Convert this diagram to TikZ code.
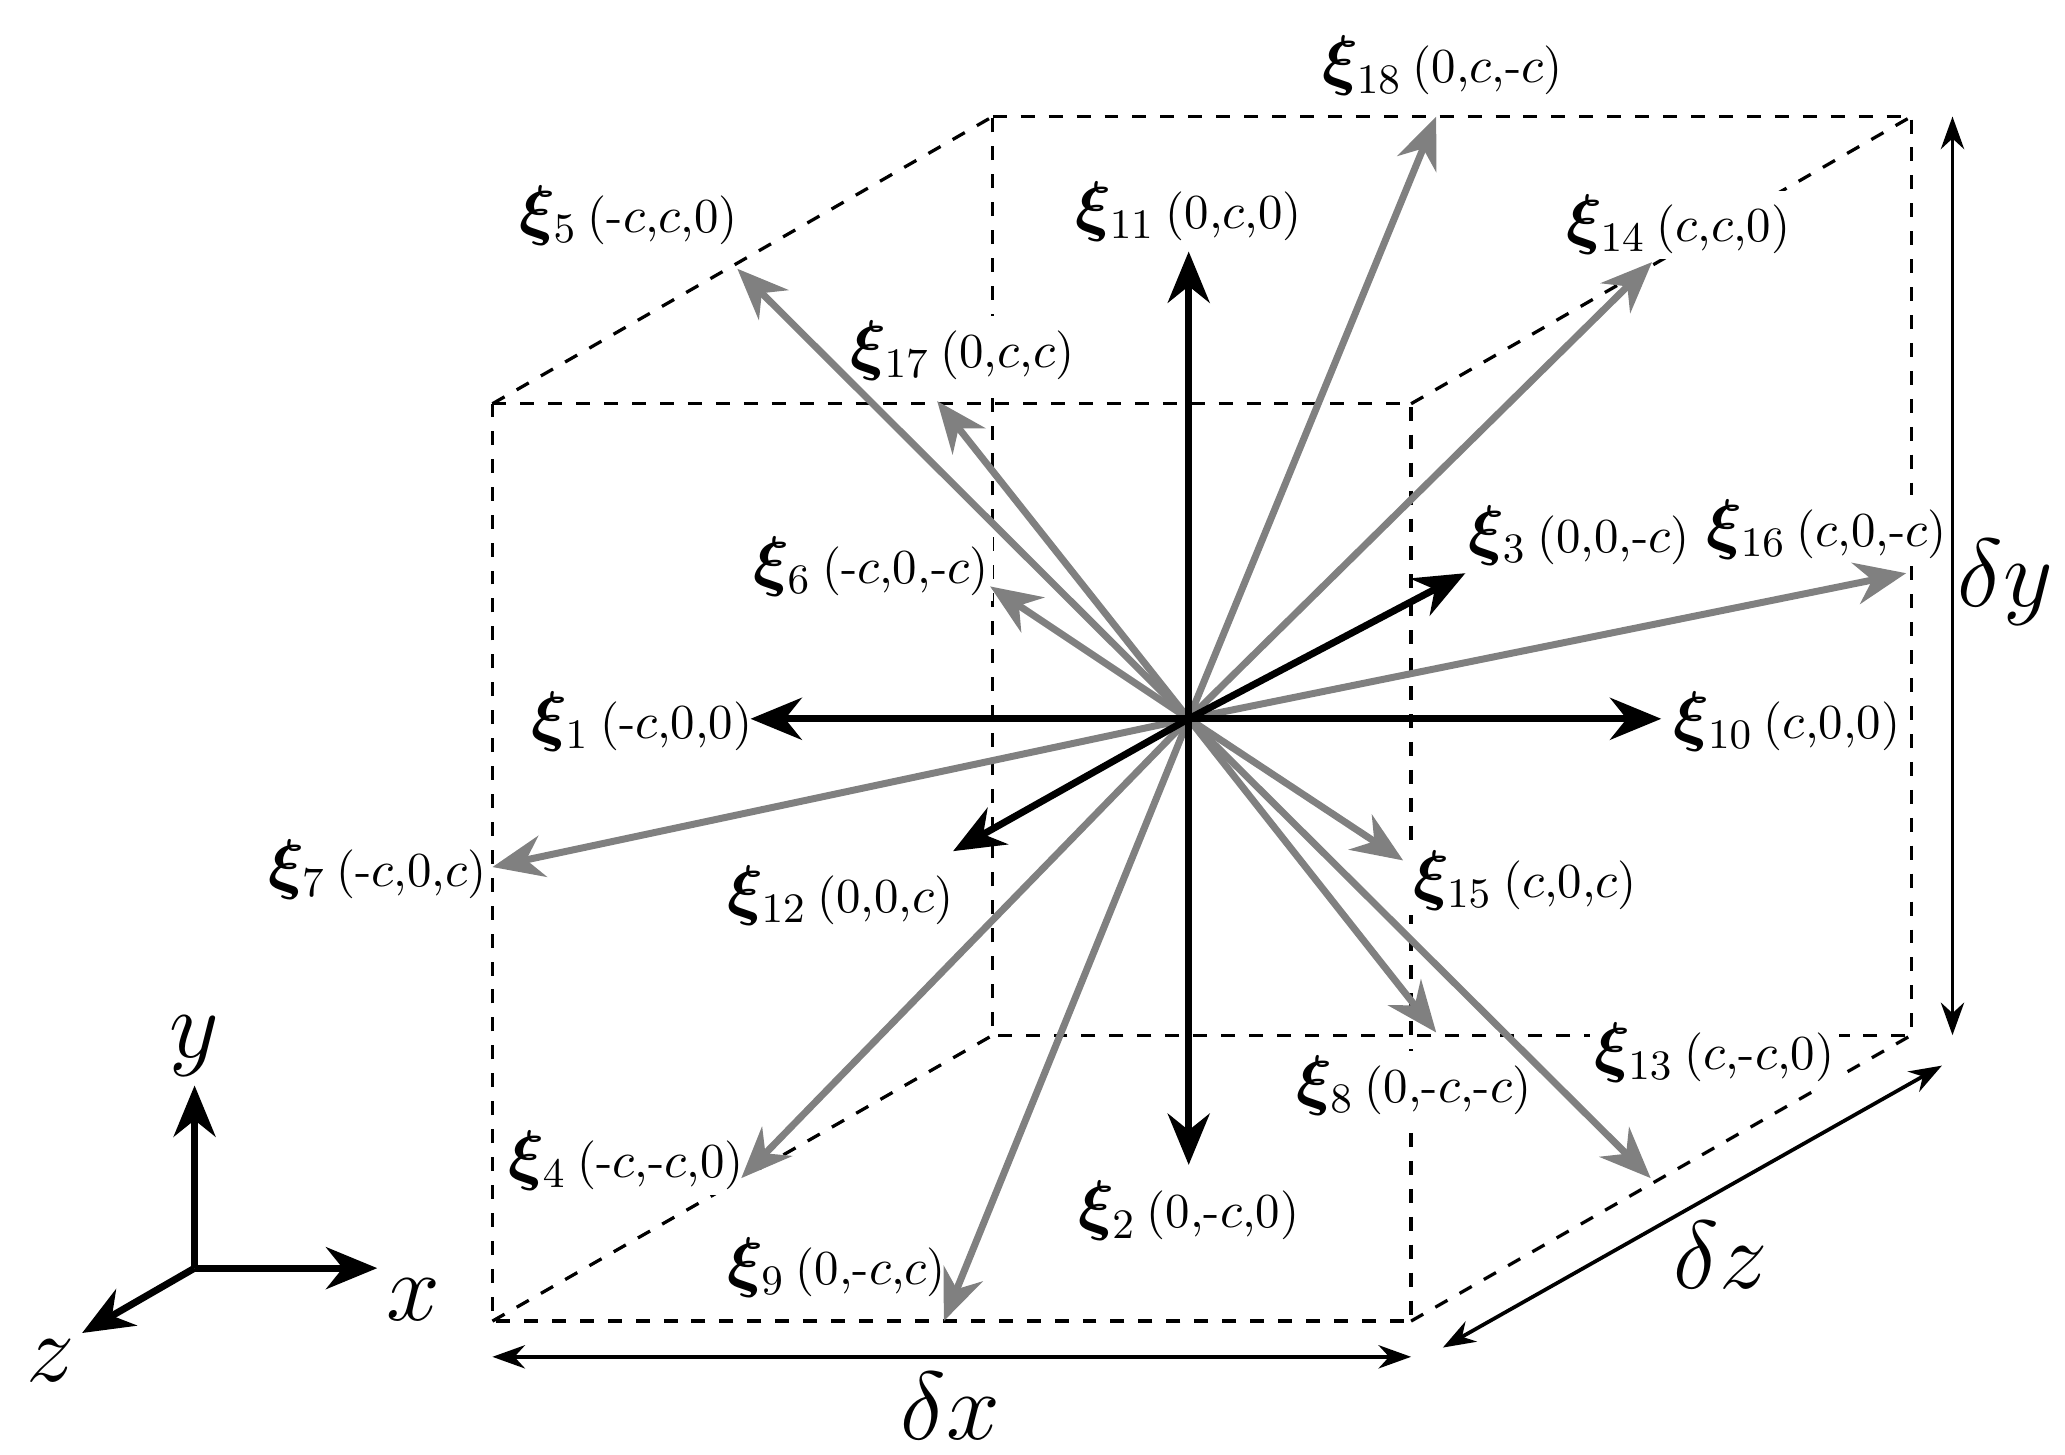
\documentclass[tikz,border=0pt]{standalone}
\usepackage{bm}
\usetikzlibrary{arrows.meta}
\begin{document}
\begin{tikzpicture}[x=0.01cm,y=-0.01cm,
  vec/.style={line width=1.5pt,-{Stealth[length=11pt,width=9pt]}},
  blk/.style={vec,black},
  gry/.style={vec,black!50},
  edge/.style={dashed,line width=0.7pt},
  dim/.style={line width=0.8pt,{Stealth[length=7pt,width=5pt]}-{Stealth[length=7pt,width=5pt]}},
  lab/.style={inner sep=1pt,fill=white,font=\fontsize{13.5}{15}\selectfont},
  big/.style={font=\fontsize{21}{24}\selectfont}]
\useasboundingbox (0,0) rectangle (1560,1099);
\newcommand{\xl}[2]{$\bm{\xi}_{#1}$\,{\fontsize{10.5}{12}\selectfont #2}}
% box
\coordinate (f1) at (372,305); \coordinate (f2) at (1066,305);
\coordinate (f3) at (1066,998); \coordinate (f4) at (372,998);
\coordinate (b1) at (750,88); \coordinate (b2) at (1444,88);
\coordinate (b3) at (1444,782); \coordinate (b4) at (750,782);
\draw[edge] (f1)--(f2)--(f3)--(f4)--cycle;
\draw[edge] (b1)--(b2)--(b3)--(b4)--cycle;
\draw[edge] (f1)--(b1) (f2)--(b2) (f3)--(b3) (f4)--(b4);
\coordinate (o) at (898,543);
% labels
\node[lab] (l18) at (1090,50) {\xl{18}{(0,$c$,-$c$)}};
\node[lab] (l5) at (475,163) {\xl{5}{(-$c$,$c$,0)}};
\node[lab] (l11) at (898,160) {\xl{11}{(0,$c$,0)}};
\node[lab] (l14) at (1268,170) {\xl{14}{($c$,$c$,0)}};
\node[lab] (l17) at (727,265) {\xl{17}{(0,$c$,$c$)}};
\node[lab] (l3) at (1193,405) {\xl{3}{(0,0,-$c$)}};
\node[lab] (l16) at (1380,400) {\xl{16}{($c$,0,-$c$)}};
\node[lab] (l6) at (658,428) {\xl{6}{(-$c$,0,-$c$)}};
\node[lab] (l1) at (485,545) {\xl{1}{(-$c$,0,0)}};
\node[lab] (l10) at (1350,545) {\xl{10}{($c$,0,0)}};
\node[lab] (l7) at (285,657) {\xl{7}{(-$c$,0,$c$)}};
\node[lab] (l12) at (635,677) {\xl{12}{(0,0,$c$)}};
\node[lab] (l15) at (1152,665) {\xl{15}{($c$,0,$c$)}};
\node[lab] (l13) at (1295,795) {\xl{13}{($c$,-$c$,0)}};
\node[lab] (l8) at (1068,820) {\xl{8}{(0,-$c$,-$c$)}};
\node[lab] (l4) at (473,877) {\xl{4}{(-$c$,-$c$,0)}};
\node[lab] (l2) at (898,915) {\xl{2}{(0,-$c$,0)}};
\node[lab] (l9) at (632,958) {\xl{9}{(0,-$c$,$c$)}};
% endpoints
\coordinate (e5) at (557,203); \coordinate (e17) at (708,303);
\coordinate (e6) at (748,443); \coordinate (e7) at (372,655);
\coordinate (e4) at (560,890); \coordinate (e9) at (713,998);
\coordinate (e18) at (1085,88); \coordinate (e14) at (1248,198);
\coordinate (e16) at (1440,433); \coordinate (e15) at (1060,650);
\coordinate (e8) at (1085,780); \coordinate (e13) at (1247,890);
\coordinate (e1) at (567,543); \coordinate (e10) at (1255,543);
\coordinate (e11) at (898,190); \coordinate (e2) at (898,880);
\coordinate (e3) at (1107,433); \coordinate (e12) at (720,643);
\foreach \i in {5,17,6,7,4,9,18,14,16,15,8,13} \draw[gry] (o)--(e\i);
\foreach \i in {1,10,11,2,3,12} \draw[blk] (o)--(e\i);
% dimensions
\coordinate (y1) at (1475,88); \coordinate (y2) at (1475,782);
\draw[dim] (y1)--(y2);
\node[big] (dy) at (1515,440) {$\delta y$};
\coordinate (x1) at (372,1025); \coordinate (x2) at (1066,1025);
\draw[dim] (x1)--(x2);
\node[big] (dx) at (718,1062) {$\delta x$};
\coordinate (z1) at (1090,1018); \coordinate (z2) at (1467,805);
\draw[dim] (z1)--(z2);
\node[big] (dz) at (1300,948) {$\delta z$};
% axes
\coordinate (ao) at (147,958);
\coordinate (ay) at (147,820); \coordinate (ax) at (285,958); \coordinate (az) at (62,1007);
\draw[blk] (ao)--(ay); \draw[blk] (ao)--(ax); \draw[blk] (ao)--(az);
\node[big] (ty) at (147,790) {$y$};
\node[big] (tx) at (312,982) {$x$};
\node[big] (tz) at (38,1028) {$z$};
\end{tikzpicture}
\end{document}
